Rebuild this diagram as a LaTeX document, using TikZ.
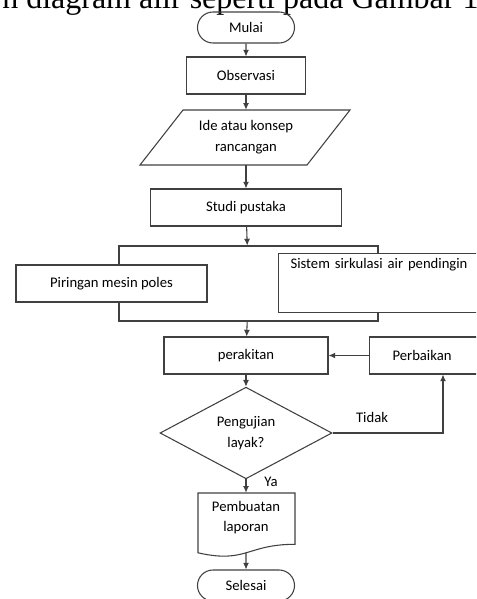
\documentclass[tikz,border=0pt]{standalone}
\usepackage{fontspec}
\setmainfont{Carlito}
\newfontfamily\judulfont{Liberation Serif}
\usetikzlibrary{shapes.geometric,shapes.misc,arrows.meta}

\tikzset{
  garis/.style={draw=black!75, line width=0.8pt},
  terminal/.style={garis, rounded rectangle, minimum width=72.75pt, minimum height=23.25pt, inner sep=0pt},
  proses/.style={garis, rectangle, fill=white, minimum height=27.75pt, inner sep=0pt},
  keputusan/.style={garis, diamond, minimum width=129pt, minimum height=67.5pt, inner sep=0pt, align=center},
  teks/.style={inner sep=0pt, align=center},
}

\begin{document}
\begin{tikzpicture}[x=0.75pt, y=-0.75pt, font=\fontsize{11}{15.5}\selectfont]
  \useasboundingbox (0,0) rectangle (476,599);
  \clip (0,0) rectangle (476,599);
  \node[anchor=base west, inner sep=0pt, font=\judulfont\fontsize{24}{28}\selectfont] (judul) at (2,9) {n diagram alir seperti pada Gambar 1.};

  \node[terminal] (mulai) at (246,27.5) {Mulai};
  \node[proses, minimum width=89.25pt] (observasi) at (246,75.5) {Observasi};
  \draw[garis] (140,165) -- (183,110) -- (350,110) -- (307,165) -- cycle;
  \node[teks, minimum width=125pt, minimum height=41.25pt] (ide) at (246,137.5) {Ide atau konsep\\rancangan};
  \node[proses, minimum width=143.25pt] (studi) at (246,207.5) {Studi pustaka};
  \node[garis, minimum width=194.25pt, minimum height=56.25pt] (kelompok) at (248.5,283.5) {};
  \node[proses, minimum width=143.25pt] (piringan) at (111.5,283.5) {Piringan mesin poles};
  \node[proses, anchor=north west, align=left, text width=150pt, inner xsep=9pt,
        inner ysep=4pt, text height=7.5pt, text depth=28.5pt] (sistem) at (278,253) {Sistem sirkulasi air pendingin};
  \node[proses, minimum width=123pt] (perakitan) at (246,355.5) {perakitan};
  \node[proses, anchor=west, align=left, text width=60pt, inner xsep=17.25pt] (perbaikan) at (369,355.5) {Perbaikan};
  \node[keputusan] (uji) at (246,433) {Pengujian\\layak?};
  \draw[garis] (198,493) -- (295,493) -- (295,544.3) .. controls (246.5,544.3) and (246.5,563.8) .. (198,552.8) -- cycle;
  \node[teks, minimum width=72.75pt, minimum height=36.75pt] (laporan) at (246,517.5) {Pembuatan\\laporan};
  \coordinate (lapbawah) at (246,552.7);
  \node[terminal] (selesai) at (246,585.5) {Selesai};
  \coordinate (tidak) at (443,433);
  \node[teks] (labeltidak) at (372,417) {Tidak};
  \node[teks] (labelya) at (271,482) {Ya};

  \begin{scope}[garis, ->, >={Latex[length=5pt,width=4.5pt]}]
    \draw (mulai) -- (observasi);
    \draw (observasi) -- (ide);
    \draw (ide) -- (studi);
    \draw (studi) -- (kelompok);
    \draw (kelompok) -- (perakitan);
    \draw (perbaikan) -- (perakitan);
    \draw (perakitan) -- (uji);
    \draw (uji) -- (laporan);
    \draw (lapbawah) -- (selesai);
    \draw (uji.east) -- (tidak) -- (tidak |- perbaikan.south);
  \end{scope}
\end{tikzpicture}
\end{document}
